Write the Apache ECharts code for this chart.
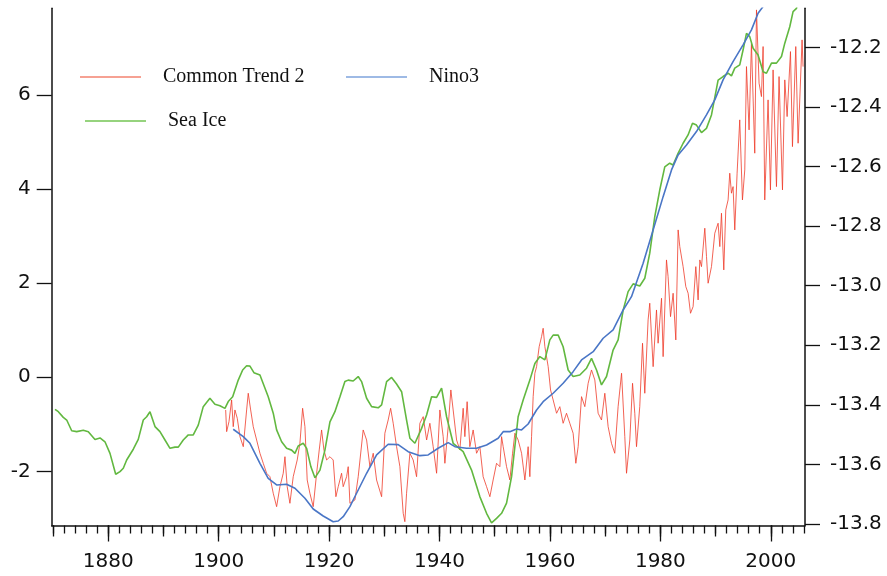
<!DOCTYPE html>
<html>
<head>
<meta charset="utf-8">
<script src="https://cdn.jsdelivr.net/npm/echarts@6/dist/echarts.min.js"></script>
<style>
  html, body { margin: 0; padding: 0; background: #fff; }
  #chart { width: 887px; height: 576px; }
</style>
</head>
<body>
<div id="chart"></div>
<script>
// Common Trend 2 (left axis), [year, value]
const commonTrend2 = [
  [1901.26,-0.695],[1901.44,-1.156],[1901.86,-0.944],[1902.34,-0.482],[1902.63,-1.050],[1902.94,-0.695],
  [1903.36,-0.871],[1903.85,-1.262],[1904.45,-1.475],[1905.06,-0.695],[1905.35,-0.340],[1905.79,-0.695],
  [1906.26,-1.050],[1906.87,-1.333],[1907.47,-1.615],[1908.07,-1.828],[1908.68,-2.040],[1909.28,-2.113],
  [1909.88,-2.465],[1910.49,-2.750],[1911.09,-2.325],[1911.69,-2.040],[1912.00,-1.688],[1912.41,-2.325],
  [1912.90,-2.678],[1913.50,-2.113],[1914.22,-1.758],[1914.71,-1.403],[1915.20,-0.659],[1915.62,-1.050],
  [1916.03,-2.183],[1916.52,-2.465],[1917.12,-2.750],[1917.74,-2.040],[1918.21,-1.545],[1918.64,-1.120],
  [1919.06,-1.545],[1919.55,-1.758],[1920.15,-1.688],[1920.74,-1.758],[1921.23,-2.538],[1921.65,-2.325],
  [1922.26,-2.040],[1922.55,-2.325],[1923.17,-2.113],[1923.46,-1.900],[1923.77,-2.678],[1924.67,-2.608],
  [1925.27,-2.113],[1926.17,-1.120],[1926.79,-1.333],[1927.39,-1.900],[1927.99,-1.615],[1928.60,-2.183],
  [1929.51,-2.538],[1930.10,-1.190],[1930.70,-0.908],[1931.14,-0.659],[1931.61,-0.978],[1932.22,-1.475],
  [1932.82,-1.900],[1933.42,-2.891],[1933.72,-3.069],[1934.03,-2.465],[1934.63,-1.615],[1935.23,-1.758],
  [1935.84,-2.113],[1936.44,-0.978],[1937.04,-0.837],[1937.66,-1.333],[1938.25,-0.978],[1938.85,-1.475],
  [1939.47,-2.040],[1940.06,-0.695],[1940.66,-1.262],[1940.97,-1.828],[1941.57,-1.050],[1942.05,-0.270],
  [1942.47,-0.695],[1943.09,-1.333],[1943.68,-1.545],[1944.28,-0.659],[1944.59,-1.262],[1945.00,-0.519],
  [1945.49,-1.475],[1946.09,-1.120],[1946.71,-1.615],[1947.30,-1.475],[1947.90,-2.113],[1948.52,-2.325],
  [1949.12,-2.538],[1949.71,-2.183],[1950.33,-1.828],[1950.93,-1.900],[1951.24,-1.262],[1951.53,-1.475],
  [1952.14,-1.900],[1952.74,-2.183],[1953.23,-1.615],[1953.65,-1.190],[1954.24,-1.333],[1954.86,-1.615],
  [1955.46,-2.183],[1956.05,-1.475],[1956.36,-2.113],[1956.67,-1.262],[1956.96,-0.412],[1957.27,0.085],
  [1957.58,0.225],[1958.05,0.650],[1958.48,0.863],[1958.77,1.041],[1959.08,0.650],[1959.68,0.225],
  [1960.11,-0.270],[1960.58,-0.482],[1961.20,-0.765],[1961.79,-0.625],[1962.39,-0.978],[1963.00,-0.765],
  [1963.60,-0.978],[1964.20,-1.190],[1964.69,-1.828],[1965.11,-1.475],[1965.72,-0.412],[1966.32,-0.625],
  [1966.92,-0.128],[1967.53,0.155],[1968.13,-0.057],[1968.73,-0.765],[1969.34,-0.908],[1969.94,-0.340],
  [1970.54,-1.050],[1971.15,-1.403],[1971.74,-1.615],[1972.35,-0.625],[1972.97,0.085],[1973.56,-1.262],
  [1973.87,-2.040],[1974.47,-1.333],[1974.96,-0.128],[1975.37,-0.765],[1975.68,-1.475],[1976.27,-0.625],
  [1976.77,0.723],[1977.18,-0.340],[1977.78,1.218],[1978.08,1.573],[1978.69,0.225],[1979.30,1.430],
  [1979.59,0.723],[1980.21,1.679],[1980.50,0.438],[1981.11,2.493],[1981.40,2.138],[1981.84,1.288],
  [1982.31,1.785],[1982.80,0.793],[1983.22,3.131],[1983.52,2.776],[1984.12,2.351],[1984.61,1.926],
  [1985.03,1.785],[1985.46,1.360],[1985.93,1.501],[1986.42,2.351],[1986.84,1.643],[1987.15,2.493],
  [1987.45,2.351],[1988.05,3.167],[1988.36,2.563],[1988.65,1.998],[1989.26,2.351],[1989.86,3.061],
  [1990.46,3.273],[1990.77,2.776],[1991.07,3.486],[1991.49,2.281],[1991.85,3.556],[1992.27,3.768],
  [1992.57,4.336],[1992.88,3.911],[1993.17,4.051],[1993.48,3.131],[1993.90,4.336],[1994.38,5.469],
  [1994.87,3.768],[1995.29,4.406],[1995.60,6.601],[1996.07,5.256],[1996.50,7.099],[1997.10,4.761],
  [1997.41,7.806],[1997.88,6.249],[1998.31,5.964],[1998.61,7.027],[1998.91,3.768],[1999.51,5.894],
  [1999.94,3.981],[2000.42,6.531],[2001.03,4.051],[2001.50,6.389],[2002.12,3.981],[2002.54,6.319],
  [2002.96,5.539],[2003.57,6.920],[2003.93,4.901],[2004.53,7.027],[2004.95,4.973],[2005.67,7.169],
  [2005.85,6.601]
];

// Nino3 (left axis), [year, value]
const nino3 = [
  [1902.63,-1.105],[1904.45,-1.262],[1905.66,-1.403],[1907.47,-1.828],[1908.97,-2.147],[1910.49,-2.289],
  [1912.30,-2.274],[1913.81,-2.359],[1915.62,-2.572],[1917.12,-2.799],[1918.93,-2.948],[1920.74,-3.069],
  [1921.65,-3.054],[1922.55,-2.963],[1923.77,-2.750],[1924.36,-2.608],[1926.79,-2.040],[1928.60,-1.651],
  [1930.70,-1.424],[1932.51,-1.432],[1934.32,-1.581],[1936.44,-1.666],[1937.94,-1.651],[1939.75,-1.509],
  [1941.57,-1.390],[1942.78,-1.475],[1944.90,-1.509],[1946.71,-1.509],[1948.52,-1.439],[1950.62,-1.296],
  [1951.53,-1.156],[1952.74,-1.156],[1953.95,-1.099],[1954.86,-1.120],[1956.05,-0.993],[1957.58,-0.695],
  [1958.77,-0.519],[1960.58,-0.340],[1962.39,-0.128],[1964.20,0.119],[1965.72,0.368],[1967.83,0.544],
  [1969.64,0.829],[1971.44,1.005],[1973.26,1.430],[1974.77,1.713],[1976.88,2.423],[1978.69,3.131],
  [1980.50,3.838],[1982.02,4.406],[1983.22,4.725],[1984.74,4.937],[1986.54,5.220],[1988.35,5.575],
  [1989.86,5.894],[1991.36,6.319],[1993.17,6.708],[1994.98,7.063],[1996.50,7.381],[1997.70,7.736],
  [1998.61,7.877],[1999.50,8.050]
];

// Sea Ice (right axis), [year, value]
const seaIce = [
  [1870.35,-13.415],[1870.95,-13.423],[1871.85,-13.442],[1872.47,-13.451],[1873.37,-13.487],[1874.28,-13.490],
  [1875.47,-13.485],[1876.38,-13.490],[1877.59,-13.516],[1878.50,-13.511],[1879.40,-13.524],[1880.31,-13.563],
  [1881.34,-13.633],[1882.12,-13.624],[1882.72,-13.613],[1883.33,-13.585],[1884.53,-13.549],[1885.43,-13.516],
  [1886.34,-13.451],[1886.95,-13.440],[1887.55,-13.423],[1888.46,-13.473],[1889.36,-13.490],[1890.27,-13.518],
  [1891.18,-13.546],[1892.08,-13.542],[1892.68,-13.542],[1893.58,-13.518],[1894.49,-13.501],[1895.39,-13.501],
  [1896.30,-13.468],[1897.20,-13.406],[1898.41,-13.378],[1899.32,-13.398],[1900.22,-13.403],[1901.13,-13.412],
  [1901.73,-13.389],[1902.53,-13.373],[1903.54,-13.317],[1904.34,-13.283],[1905.06,-13.269],[1905.66,-13.270],
  [1906.38,-13.292],[1907.47,-13.300],[1908.97,-13.373],[1909.88,-13.428],[1910.49,-13.484],[1911.40,-13.524],
  [1912.30,-13.546],[1913.21,-13.552],[1913.81,-13.563],[1914.40,-13.538],[1915.31,-13.529],[1915.93,-13.546],
  [1916.70,-13.608],[1917.43,-13.645],[1918.34,-13.619],[1919.24,-13.552],[1920.15,-13.457],[1921.05,-13.423],
  [1921.96,-13.373],[1922.86,-13.322],[1923.46,-13.317],[1924.36,-13.320],[1925.27,-13.305],[1925.88,-13.322],
  [1926.79,-13.378],[1927.70,-13.406],[1928.89,-13.410],[1929.51,-13.400],[1930.41,-13.322],[1931.32,-13.308],
  [1932.22,-13.330],[1933.13,-13.356],[1934.03,-13.451],[1934.63,-13.512],[1935.54,-13.529],[1936.75,-13.479],
  [1937.66,-13.434],[1938.56,-13.373],[1939.47,-13.375],[1940.37,-13.344],[1941.28,-13.440],[1942.47,-13.529],
  [1944.28,-13.557],[1945.80,-13.619],[1947.30,-13.708],[1948.52,-13.764],[1949.42,-13.796],[1950.33,-13.781],
  [1951.24,-13.764],[1952.14,-13.730],[1953.05,-13.641],[1954.24,-13.440],[1955.15,-13.384],[1956.36,-13.317],
  [1957.27,-13.261],[1958.17,-13.238],[1959.08,-13.249],[1959.98,-13.182],[1960.58,-13.166],[1961.49,-13.166],
  [1962.39,-13.205],[1963.30,-13.283],[1964.20,-13.305],[1965.41,-13.300],[1966.63,-13.277],[1967.53,-13.244],
  [1968.44,-13.283],[1969.34,-13.333],[1970.25,-13.305],[1971.44,-13.216],[1972.35,-13.182],[1973.26,-13.082],
  [1974.16,-13.020],[1975.07,-12.994],[1976.27,-13.001],[1977.18,-12.975],[1978.08,-12.891],[1978.99,-12.768],
  [1979.89,-12.679],[1980.80,-12.601],[1981.70,-12.589],[1982.30,-12.595],[1983.21,-12.556],[1984.12,-12.522],
  [1985.02,-12.494],[1985.82,-12.455],[1986.54,-12.461],[1987.45,-12.486],[1988.35,-12.472],[1989.26,-12.427],
  [1990.46,-12.310],[1991.36,-12.298],[1992.27,-12.287],[1992.88,-12.296],[1993.48,-12.270],[1994.38,-12.259],
  [1994.98,-12.209],[1995.60,-12.153],[1996.19,-12.164],[1996.80,-12.203],[1997.70,-12.226],[1998.61,-12.282],
  [1999.22,-12.287],[2000.13,-12.253],[2001.03,-12.253],[2001.94,-12.231],[2002.54,-12.186],[2003.44,-12.131],
  [2004.04,-12.080],[2004.66,-12.069],[2005.50,-11.990],[2006.10,-11.930]
];

// Axis ticks and labels
const yearLabels = [1880, 1900, 1920, 1940, 1960, 1980, 2000];
const decadeTicks = [1870, 1880, 1890, 1900, 1910, 1920, 1930, 1940, 1950, 1960, 1970, 1980, 1990, 2000];
const yearTicks = [];
for (let y = 1870; y <= 2006; y += 2) yearTicks.push(y);
const leftTicks = [-2, 0, 2, 4, 6];
const rightTicks = [-13.8, -13.6, -13.4, -13.2, -13.0, -12.8, -12.6, -12.4, -12.2];

const X_MIN = 1869.75, X_MAX = 2006.2;
const LEFT_MIN = -3.15, LEFT_MAX = 7.84;
const RIGHT_MIN = -13.805, RIGHT_MAX = -12.069;

const axisFont = 'DejaVu Sans';
const legendFont = 'Liberation Serif';
const black = '#111';

// Every grid shares the same rectangle; grids 1 and 2 only carry extra tick layers
const gridRect = { left: 51.7, right: 82, top: 8.3, bottom: 50.5, containLabel: false, outerBoundsMode: 'none' };

function xAxisLayer(gridIndex, ticks, len, labels, showLine) {
  return {
    gridIndex, type: 'value', min: X_MIN, max: X_MAX, position: 'bottom',
    axisLine: { show: !!showLine, onZero: false, lineStyle: { color: black, width: 1.5 } },
    splitLine: { show: false },
    axisTick: { show: true, length: len, customValues: ticks, lineStyle: { color: black, width: 1.3 } },
    axisLabel: labels ? {
      show: true, customValues: labels, margin: 26,
      fontFamily: axisFont, fontSize: 20, color: black,
      formatter: v => String(v)
    } : { show: false }
  };
}

function hiddenY(gridIndex) {
  return { gridIndex, type: 'value', min: LEFT_MIN, max: LEFT_MAX, show: false,
           axisLine: { show: false }, axisTick: { show: false }, axisLabel: { show: false }, splitLine: { show: false } };
}

const chart = echarts.init(document.getElementById('chart'), null, { renderer: 'canvas' });

const legendBase = {
  orient: 'horizontal', padding: 0, itemWidth: 61, itemHeight: 1.5, icon: 'rect',
  selectedMode: false,
  textStyle: { fontFamily: legendFont, fontSize: 20, color: '#111', padding: [0, 0, 0, 17] }
};

chart.setOption({
  animation: false,
  backgroundColor: '#fff',
  grid: [gridRect, Object.assign({}, gridRect), Object.assign({}, gridRect)],
  legend: [
    Object.assign({}, legendBase, { left: 80, top: 67, data: [{ name: 'Common Trend 2', itemStyle: { color: '#f3826f' } }] }),
    Object.assign({}, legendBase, { left: 346, top: 67, data: [{ name: 'Nino3', itemStyle: { color: '#7ea3dc' } }] }),
    Object.assign({}, legendBase, { left: 85, top: 111, data: [{ name: 'Sea Ice', itemStyle: { color: '#73c553' } }] })
  ],
  xAxis: [
    xAxisLayer(0, yearLabels, 16, yearLabels, true),
    xAxisLayer(1, decadeTicks, 11, null, false),
    xAxisLayer(2, yearTicks, 8, null, false)
  ],
  yAxis: [
    {
      gridIndex: 0, type: 'value', position: 'left', min: LEFT_MIN, max: LEFT_MAX,
      axisLine: { show: true, onZero: false, lineStyle: { color: black, width: 1.5 } },
      splitLine: { show: false },
      axisTick: { show: true, length: 15, customValues: leftTicks, lineStyle: { color: black, width: 1.3 } },
      axisLabel: { show: true, customValues: leftTicks, margin: 21, fontFamily: axisFont, fontSize: 20, color: black,
                   formatter: v => String(v) }
    },
    {
      gridIndex: 0, type: 'value', position: 'right', min: RIGHT_MIN, max: RIGHT_MAX,
      axisLine: { show: true, onZero: false, lineStyle: { color: black, width: 1.5 } },
      splitLine: { show: false },
      axisTick: { show: true, length: 15, customValues: rightTicks, lineStyle: { color: black, width: 1.3 } },
      axisLabel: { show: true, customValues: rightTicks, margin: 25, fontFamily: axisFont, fontSize: 20, color: black,
                   formatter: v => v.toFixed(1) }
    },
    hiddenY(1),
    hiddenY(2)
  ],
  series: [
    {
      name: 'Common Trend 2', type: 'line', xAxisIndex: 0, yAxisIndex: 0,
      data: commonTrend2, showSymbol: false, symbol: 'none', clip: true, z: 2,
      lineStyle: { color: '#ef3b2a', width: 0.8 }, itemStyle: { color: '#ef3b2a' }
    },
    {
      name: 'Sea Ice', type: 'line', xAxisIndex: 0, yAxisIndex: 1,
      data: seaIce, showSymbol: false, symbol: 'none', clip: true, z: 3,
      lineStyle: { color: '#62b840', width: 1.6 }, itemStyle: { color: '#62b840' }
    },
    {
      name: 'Nino3', type: 'line', xAxisIndex: 0, yAxisIndex: 0,
      data: nino3, showSymbol: false, symbol: 'none', clip: true, z: 4,
      lineStyle: { color: '#4a76c6', width: 1.6 }, itemStyle: { color: '#4a76c6' }
    }
  ]
});
</script>
</body>
</html>
